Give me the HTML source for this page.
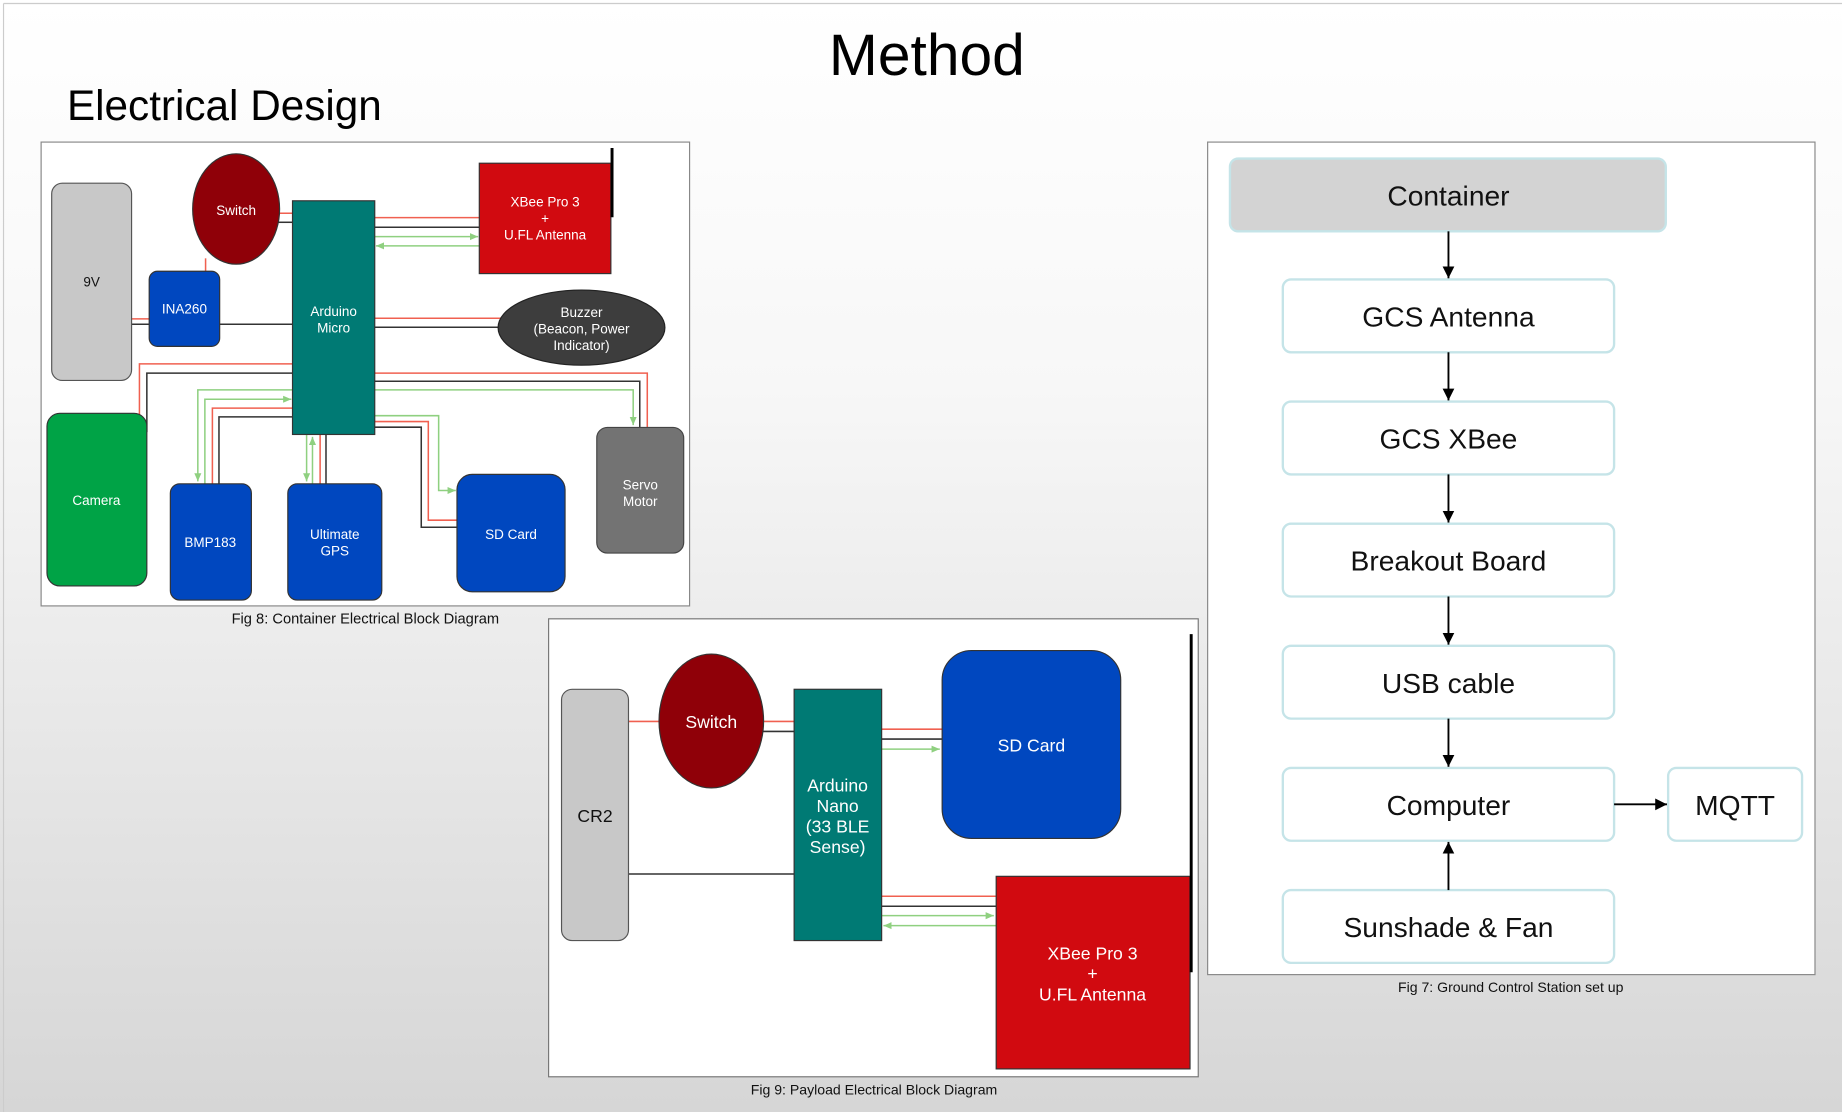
<!DOCTYPE html>
<html><head><meta charset="utf-8"><style>
html,body{margin:0;padding:0;width:1842px;height:1112px;overflow:hidden;}
svg{display:block}
text{font-family:"Liberation Sans",Arial,sans-serif}
</style></head><body>
<svg width="1842" height="1112" viewBox="0 0 1568 947" preserveAspectRatio="none" xmlns="http://www.w3.org/2000/svg">
<defs>
<linearGradient id="bg" x1="0" y1="0" x2="0" y2="1">
<stop offset="0" stop-color="#ffffff"/><stop offset="0.35" stop-color="#f7f7f7"/><stop offset="1" stop-color="#d6d6d6"/>
</linearGradient>
<marker id="ag" markerWidth="8" markerHeight="8" refX="7" refY="4" orient="auto" markerUnits="userSpaceOnUse"><path d="M0,1 L7,4 L0,7z" fill="#8fd080"/></marker>
<marker id="ak" markerWidth="12" markerHeight="12" refX="10" refY="5" orient="auto" markerUnits="userSpaceOnUse"><path d="M0,0 L10,5 L0,10z" fill="#000"/></marker>
</defs>
<rect width="1568" height="947" fill="url(#bg)"/>
<line x1="3" y1="3" x2="1568" y2="3" stroke="#ccc"/>
<line x1="3" y1="3" x2="3" y2="947" stroke="#ccc"/>
<text x="789" y="64" font-size="50" text-anchor="middle" fill="#000">Method</text>
<text x="57" y="102" font-size="36" fill="#000">Electrical Design</text>

<!-- Container diagram -->
<rect x="35" y="121" width="552" height="395" fill="#fff" stroke="#888"/>
<g fill="none" stroke-width="1.3">
<!-- switch-arduino -->
<polyline points="238,181.6 249,181.6" stroke="#f06050"/>
<polyline points="236,189.3 249,189.3" stroke="#333"/>
<!-- xbee -->
<line x1="319" y1="185.3" x2="408" y2="185.3" stroke="#f06050"/>
<line x1="319" y1="193.5" x2="408" y2="193.5" stroke="#333"/>
<line x1="319" y1="201.5" x2="407" y2="201.5" stroke="#8fd080" marker-end="url(#ag)"/>
<line x1="408" y1="209.4" x2="320" y2="209.4" stroke="#8fd080" marker-end="url(#ag)"/>
<!-- switch-ina -->
<line x1="175" y1="220" x2="175" y2="231" stroke="#f06050"/>
<!-- 9v-ina -->
<line x1="112" y1="271.6" x2="127" y2="271.6" stroke="#f06050"/>
<line x1="112" y1="276.1" x2="127" y2="276.1" stroke="#333"/>
<line x1="187" y1="276.1" x2="249" y2="276.1" stroke="#333"/>
<!-- buzzer -->
<line x1="319" y1="271" x2="428" y2="271" stroke="#f06050"/>
<line x1="319" y1="278.7" x2="424" y2="278.7" stroke="#333"/>
<!-- camera -->
<polyline points="249,309.9 118.7,309.9 118.7,356" stroke="#f06050"/>
<polyline points="249,317.8 125,317.8 125,368" stroke="#333"/>
<!-- servo -->
<polyline points="319,317.8 551,317.8 551,364" stroke="#f06050"/>
<polyline points="319,324.7 544.6,324.7 544.6,364" stroke="#333"/>
<polyline points="319,332 539,332 539,362" stroke="#8fd080" marker-end="url(#ag)"/>
<!-- bmp -->
<polyline points="249,332 168.4,332 168.4,410" stroke="#8fd080" marker-end="url(#ag)"/>
<polyline points="174.4,412 174.4,340 248,340" stroke="#8fd080" marker-end="url(#ag)"/>
<polyline points="249,347.6 180.8,347.6 180.8,412" stroke="#f06050"/>
<polyline points="249,355 186.4,355 186.4,412" stroke="#333"/>
<!-- gps -->
<line x1="261" y1="370" x2="261" y2="410" stroke="#8fd080" marker-end="url(#ag)"/>
<line x1="266" y1="412" x2="266" y2="372" stroke="#8fd080" marker-end="url(#ag)"/>
<line x1="272.5" y1="370" x2="272.5" y2="412" stroke="#f06050"/>
<line x1="277.5" y1="370" x2="277.5" y2="412" stroke="#333"/>
<!-- sd -->
<polyline points="319,354 373.4,354 373.4,417.7 388,417.7" stroke="#8fd080" marker-end="url(#ag)"/>
<polyline points="319,359 364.6,359 364.6,443 389,443" stroke="#f06050"/>
<polyline points="319,363.8 358.6,363.8 358.6,449 389,449" stroke="#333"/>
</g>
<rect x="44" y="156" width="68" height="168" rx="9" fill="#c8c8c8" stroke="#555"/>
<text x="78" y="244" font-size="11.5" text-anchor="middle" fill="#111">9V</text>
<ellipse cx="201" cy="178" rx="37" ry="47" fill="#8f0008" stroke="#333"/>
<text x="201" y="183" font-size="11.5" text-anchor="middle" fill="#fff">Switch</text>
<rect x="127" y="231" width="60" height="64" rx="7" fill="#0047bf" stroke="#333"/>
<text x="157" y="267" font-size="11.5" text-anchor="middle" fill="#fff">INA260</text>
<rect x="249" y="171" width="70" height="199" fill="#007a74" stroke="#333"/>
<text x="284" y="269" font-size="11.5" text-anchor="middle" fill="#fff">Arduino</text>
<text x="284" y="283" font-size="11.5" text-anchor="middle" fill="#fff">Micro</text>
<rect x="408" y="139" width="112" height="94" fill="#d10a10" stroke="#333"/>
<line x1="521" y1="126" x2="521" y2="185" stroke="#000" stroke-width="2.5"/>
<text x="464" y="176" font-size="11.5" text-anchor="middle" fill="#fff">XBee Pro 3</text>
<text x="464" y="190" font-size="11.5" text-anchor="middle" fill="#fff">+</text>
<text x="464" y="204" font-size="11.5" text-anchor="middle" fill="#fff">U.FL Antenna</text>
<ellipse cx="495" cy="279" rx="71" ry="32" fill="#3d3d3d" stroke="#222"/>
<text x="495" y="270" font-size="11.5" text-anchor="middle" fill="#fff">Buzzer</text>
<text x="495" y="284" font-size="11.5" text-anchor="middle" fill="#fff">(Beacon, Power</text>
<text x="495" y="298" font-size="11.5" text-anchor="middle" fill="#fff">Indicator)</text>
<rect x="40" y="352" width="85" height="147" rx="11" fill="#00a346" stroke="#333"/>
<text x="82" y="430" font-size="11.5" text-anchor="middle" fill="#fff">Camera</text>
<rect x="145" y="412" width="69" height="99" rx="8" fill="#0047bf" stroke="#333"/>
<text x="179" y="466" font-size="11.5" text-anchor="middle" fill="#fff">BMP183</text>
<rect x="245" y="412" width="80" height="99" rx="8" fill="#0047bf" stroke="#333"/>
<text x="285" y="459" font-size="11.5" text-anchor="middle" fill="#fff">Ultimate</text>
<text x="285" y="473" font-size="11.5" text-anchor="middle" fill="#fff">GPS</text>
<rect x="389" y="404" width="92" height="100" rx="13" fill="#0047bf" stroke="#333"/>
<text x="435" y="459" font-size="11.5" text-anchor="middle" fill="#fff">SD Card</text>
<rect x="508" y="364" width="74" height="107" rx="9" fill="#737373" stroke="#444"/>
<text x="545" y="417" font-size="11.5" text-anchor="middle" fill="#fff">Servo</text>
<text x="545" y="431" font-size="11.5" text-anchor="middle" fill="#fff">Motor</text>
<text x="311" y="531" font-size="12.5" text-anchor="middle" fill="#111">Fig 8: Container Electrical Block Diagram</text>

<!-- Payload diagram -->
<rect x="467" y="527" width="553" height="390" fill="#fff" stroke="#777"/>
<g fill="none" stroke-width="1.3">
<line x1="535" y1="614.4" x2="561" y2="614.4" stroke="#f06050"/>
<line x1="650" y1="614.4" x2="676" y2="614.4" stroke="#f06050"/>
<line x1="649" y1="622.9" x2="676" y2="622.9" stroke="#333"/>
<line x1="750" y1="621" x2="802" y2="621" stroke="#f06050"/>
<line x1="750" y1="629.4" x2="802" y2="629.4" stroke="#333"/>
<line x1="750" y1="638" x2="800" y2="638" stroke="#8fd080" marker-end="url(#ag)"/>
<line x1="535" y1="744.3" x2="676" y2="744.3" stroke="#333"/>
<line x1="750" y1="763.3" x2="848" y2="763.3" stroke="#f06050"/>
<line x1="750" y1="771.8" x2="848" y2="771.8" stroke="#333"/>
<line x1="750" y1="779.8" x2="846" y2="779.8" stroke="#8fd080" marker-end="url(#ag)"/>
<line x1="848" y1="788.3" x2="752" y2="788.3" stroke="#8fd080" marker-end="url(#ag)"/>
</g>
<rect x="478" y="587" width="57" height="214" rx="9" fill="#c8c8c8" stroke="#555"/>
<text x="506.5" y="700" font-size="15" text-anchor="middle" fill="#111">CR2</text>
<ellipse cx="605.5" cy="614" rx="44.5" ry="57" fill="#8f0008" stroke="#333"/>
<text x="605.5" y="620" font-size="15" text-anchor="middle" fill="#fff">Switch</text>
<rect x="676" y="587" width="74.5" height="214" fill="#007a74" stroke="#333"/>
<text x="713" y="674" font-size="15" text-anchor="middle" fill="#fff">Arduino</text>
<text x="713" y="691.5" font-size="15" text-anchor="middle" fill="#fff">Nano</text>
<text x="713" y="709" font-size="15" text-anchor="middle" fill="#fff">(33 BLE</text>
<text x="713" y="726.5" font-size="15" text-anchor="middle" fill="#fff">Sense)</text>
<rect x="802" y="554" width="152" height="160" rx="25" fill="#0047bf" stroke="#333"/>
<text x="878" y="640" font-size="15" text-anchor="middle" fill="#fff">SD Card</text>
<rect x="848" y="746.3" width="165" height="164" fill="#d10a10" stroke="#333"/>
<line x1="1014" y1="540" x2="1014" y2="828" stroke="#000" stroke-width="2.5"/>
<text x="930" y="817" font-size="15" text-anchor="middle" fill="#fff">XBee Pro 3</text>
<text x="930" y="834" font-size="15" text-anchor="middle" fill="#fff">+</text>
<text x="930" y="852" font-size="15" text-anchor="middle" fill="#fff">U.FL Antenna</text>
<text x="744" y="932" font-size="12" text-anchor="middle" fill="#111">Fig 9: Payload Electrical Block Diagram</text>

<!-- GCS -->
<rect x="1028" y="121" width="517" height="709" fill="#fff" stroke="#888"/>
<rect x="1047" y="135" width="371" height="62" rx="7" fill="#d3d3d3" stroke="#c5e4e8" stroke-width="2"/>
<text x="1233" y="175" font-size="24" text-anchor="middle" fill="#111">Container</text>
<g fill="#fff" stroke="#c5e4e8" stroke-width="2">
<rect x="1092" y="238" width="282" height="62" rx="7"/>
<rect x="1092" y="342" width="282" height="62" rx="7"/>
<rect x="1092" y="446" width="282" height="62" rx="7"/>
<rect x="1092" y="550" width="282" height="62" rx="7"/>
<rect x="1092" y="654" width="282" height="62" rx="7"/>
<rect x="1092" y="758" width="282" height="62" rx="7"/>
<rect x="1420" y="654" width="114" height="62" rx="7"/>
</g>
<g font-size="24" text-anchor="middle" fill="#111">
<text x="1233" y="278">GCS Antenna</text>
<text x="1233" y="382">GCS XBee</text>
<text x="1233" y="486">Breakout Board</text>
<text x="1233" y="590">USB cable</text>
<text x="1233" y="694">Computer</text>
<text x="1233" y="798">Sunshade &amp; Fan</text>
<text x="1477" y="694">MQTT</text>
</g>
<g stroke="#000" stroke-width="1.6" fill="none">
<line x1="1233" y1="197" x2="1233" y2="237" marker-end="url(#ak)"/>
<line x1="1233" y1="300" x2="1233" y2="341" marker-end="url(#ak)"/>
<line x1="1233" y1="404" x2="1233" y2="445" marker-end="url(#ak)"/>
<line x1="1233" y1="508" x2="1233" y2="549" marker-end="url(#ak)"/>
<line x1="1233" y1="612" x2="1233" y2="653" marker-end="url(#ak)"/>
<line x1="1233" y1="758" x2="1233" y2="717" marker-end="url(#ak)"/>
<line x1="1374" y1="685" x2="1419" y2="685" marker-end="url(#ak)"/>
</g>
<text x="1286" y="845" font-size="12" text-anchor="middle" fill="#111">Fig 7: Ground Control Station set up</text>
</svg>
</body></html>
